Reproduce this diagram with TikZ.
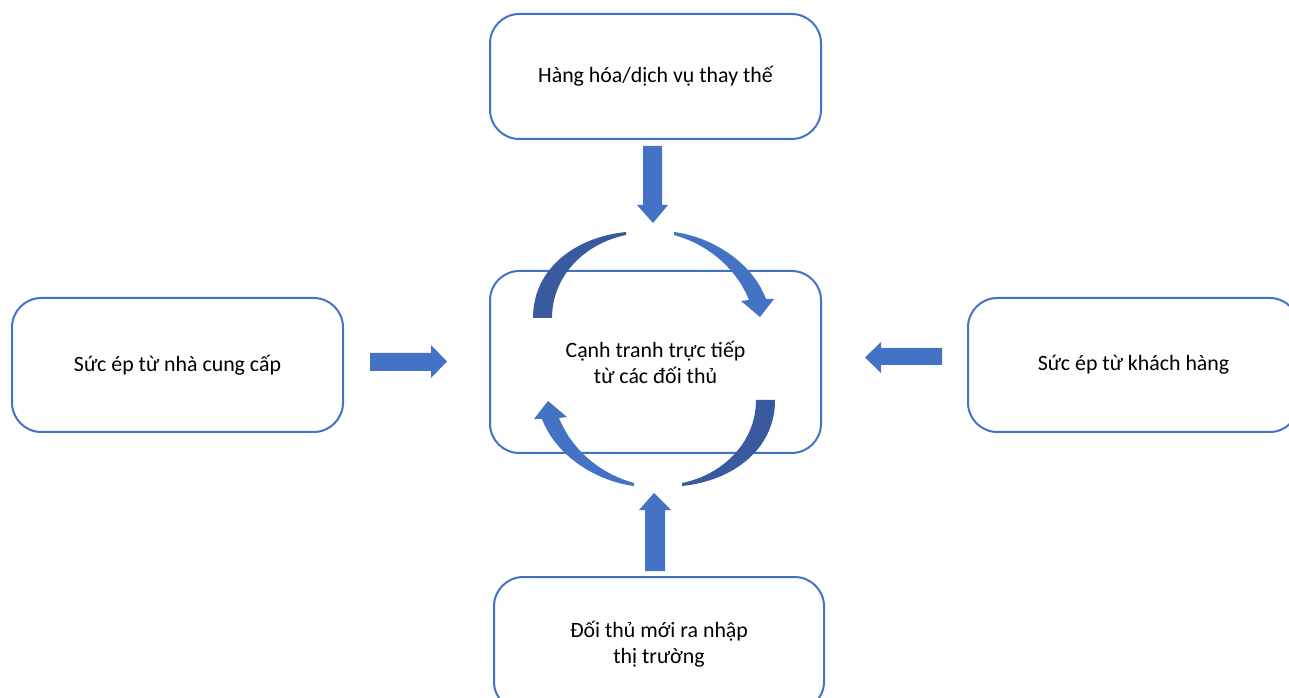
\documentclass[tikz,border=0pt]{standalone}
\usepackage{fontspec}
\setmainfont{Carlito}
\definecolor{obl}{HTML}{4472C4}
\definecolor{odk}{HTML}{3A5A9F}
\begin{document}
\begin{tikzpicture}[x=0.75pt,y=-0.75pt,
  box/.style={draw=obl, line width=1.5pt, rounded corners=22pt, fill=white,
    align=center, font=\fontsize{16.4}{19.5}\selectfont, inner sep=0pt},
  blk/.style={fill=obl},
  cyc/.style={fill=odk}]
\useasboundingbox (0,0) rectangle (1289,698);
% boxes
\node[box, minimum width=248.25pt, minimum height=93.75pt] (sub) at (655.5,76.5) {Hàng hóa/dịch vụ thay thế};
\node[box, minimum width=248.25pt, minimum height=100.5pt] (sup) at (177.5,365) {Sức ép từ nhà cung cấp};
\node[box, minimum width=248.25pt, minimum height=136.5pt] (ctr) at (655.5,362) {Cạnh tranh trực tiếp\\từ các đối thủ};
\node[box, minimum width=248.25pt, minimum height=100.5pt] (cus) at (1133.5,365) {Sức ép từ khách hàng};
\node[box, minimum width=247.5pt, minimum height=100.5pt] (new) at (659,644) {Đối thủ mới ra nhập\\thị trường};
% block arrows
\fill[blk] (643,146) -- (662,146) -- (662,205) -- (668,205) -- (653,223) -- (637,205) -- (643,205) -- cycle;
\fill[blk] (645,571) -- (665,571) -- (665,510) -- (671,510) -- (654,493) -- (639,510) -- (645,510) -- cycle;
\fill[blk] (370,353) -- (431,353) -- (431,345) -- (447,361.5) -- (431,378) -- (431,371) -- (370,371) -- cycle;
\fill[blk] (942,348) -- (881,348) -- (881,342) -- (865,357.5) -- (881,373) -- (881,365) -- (942,365) -- cycle;
% cycle arrows
\fill[cyc] (533,318) .. controls (533,268) and (576,237) .. (626,232) -- (626,235) .. controls (586,243) and (552,275) .. (552,318) -- cycle;
\fill[blk] (674,232) .. controls (712,237) and (752,262) .. (766,299) -- (774,299) -- (760,317) -- (741,301) -- (749,300) .. controls (737,270) and (710,245) .. (674,235) -- cycle;
\begin{scope}[rotate around={180:(654,359)}]
\fill[cyc] (533,318) .. controls (533,268) and (576,237) .. (626,232) -- (626,235) .. controls (586,243) and (552,275) .. (552,318) -- cycle;
\fill[blk] (674,232) .. controls (712,237) and (752,262) .. (766,299) -- (774,299) -- (760,317) -- (741,301) -- (749,300) .. controls (737,270) and (710,245) .. (674,235) -- cycle;
\end{scope}
\end{tikzpicture}
\end{document}
